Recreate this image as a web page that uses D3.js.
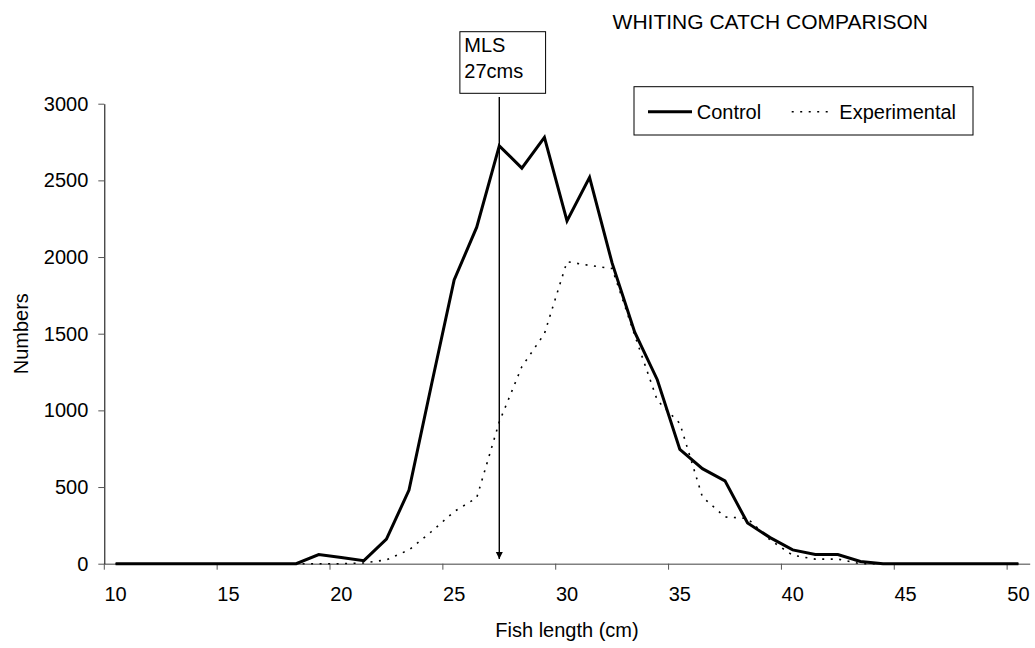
<!DOCTYPE html>
<meta charset="utf-8">
<title>Whiting catch comparison</title>
<style>
  html, body { margin: 0; padding: 0; background: #fff; }
  svg { display: block; font-family: 'Liberation Sans', Arial, sans-serif; }
  text { font-size: 20px; fill: #000; }
  .title { font-size: 21px; }
  .line { fill: none; stroke: #000; }
  .control { stroke-width: 3px; stroke-linejoin: miter; }
  .experimental { stroke-width: 1.6px; stroke-dasharray: 2 6.5; }
  .axis text { font-size: 20px; font-family: 'Liberation Sans', Arial, sans-serif; }
  .axis.x .domain { stroke: #808080; stroke-width: 1.5px; }
  .axis.x .tick line { stroke: #555; }
  .axis.y .domain { stroke: #000; }
  .axis.y .tick line { stroke: #555; }
  .frame { fill: #fff; stroke: #000; stroke-width: 1px; }
</style>
<svg id="chart" width="1035" height="648"></svg>
<script src="https://cdn.jsdelivr.net/npm/d3@7"></script>
<script>
  'use strict'
  // fish length classes (cm)
  const lengths = [10, 11, 12, 13, 14, 15, 16, 17, 18, 19, 20, 21, 22, 23, 24,
    25, 26, 27, 28, 29, 30, 31, 32, 33, 34, 35, 36, 37, 38, 39, 40, 41, 42, 43,
    44, 45, 46, 47, 48, 49, 50]
  const control = [0, 0, 0, 0, 0, 0, 0, 0, 0, 60, 40, 20, 160, 480, 1170,
    1850, 2195, 2725, 2580, 2780, 2235, 2520, 1960, 1510, 1200, 745, 620, 540,
    265, 170, 90, 60, 60, 15, 0, 0, 0, 0, 0, 0, 0]
  const experimental = [0, 0, 0, 0, 0, 0, 0, 0, 0, 0, 0, 5, 25, 90, 210,
    340, 430, 925, 1285, 1500, 1970, 1945, 1925, 1490, 1065, 915, 435, 305,
    295, 155, 55, 30, 30, 0, 0, 0, 0, 0, 0, 0, 0]
  const xTicks = [10, 15, 20, 25, 30, 35, 40, 45, 50]
  const yTicks = [0, 500, 1000, 1500, 2000, 2500, 3000]
  const seriesNames = ['Control', 'Experimental']
  const mlsLength = 27
  const mlsLabel = ['MLS', '27cms']
  const title = 'WHITING CATCH COMPARISON'

  const W = 1035, H = 648
  const margin = { top: 103.7, right: 5.3, bottom: 84.3, left: 104.3 }

  const svg = d3.select('#chart')

  const x = d3.scaleBand()
    .domain(lengths)
    .range([margin.left, W - margin.right])
    .paddingInner(0).paddingOuter(0)
  const bw = x.bandwidth()
  const cx = d => x(d) + bw / 2

  const y = d3.scaleLinear()
    .domain([0, 3000])
    .range([H - margin.bottom, margin.top])

  // axes
  const xAxis = svg.append('g')
    .attr('class', 'axis x')
    .attr('transform', `translate(0,${y(0)})`)
    .call(d3.axisBottom(x).tickValues(xTicks).tickSize(6).tickSizeOuter(0).tickPadding(17))
  // ticks sit between categories, labels on the category
  xAxis.selectAll('.tick line').attr('x1', -bw / 2).attr('x2', -bw / 2)
  xAxis.selectAll('.tick text').attr('fill', '#000')

  const yAxis = svg.append('g')
    .attr('class', 'axis y')
    .attr('transform', `translate(${margin.left},0)`)
    .call(d3.axisLeft(y).tickValues(yTicks).tickFormat(d3.format('d'))
      .tickSize(6).tickSizeOuter(0).tickPadding(10))
  yAxis.selectAll('.tick text').attr('fill', '#000')

  // axis titles
  svg.append('text')
    .attr('x', (margin.left + W - margin.right) / 2)
    .attr('y', 637)
    .attr('text-anchor', 'middle')
    .text('Fish length (cm)')
  svg.append('text')
    .attr('transform', `translate(28,${(y(0) + y(3000)) / 2}) rotate(-90)`)
    .attr('text-anchor', 'middle')
    .text('Numbers')

  // title
  svg.append('text')
    .attr('class', 'title')
    .attr('x', 928)
    .attr('y', 28.5)
    .attr('text-anchor', 'end')
    .text(title)

  // series
  const line = d3.line()
    .x((d, i) => cx(lengths[i]))
    .y(d => y(d))
  svg.append('path').datum(experimental)
    .attr('class', 'line experimental')
    .attr('d', line)
  svg.append('path').datum(control)
    .attr('class', 'line control')
    .attr('d', line)

  // MLS annotation
  const ax = cx(mlsLength)
  svg.append('defs').append('marker')
    .attr('id', 'arrow')
    .attr('viewBox', '0 0 10 10')
    .attr('refX', 10).attr('refY', 5)
    .attr('markerWidth', 7).attr('markerHeight', 8)
    .attr('markerUnits', 'userSpaceOnUse')
    .attr('orient', 'auto')
    .append('path').attr('d', 'M0,0L10,5L0,10Z').attr('fill', '#000')
  svg.append('line')
    .attr('x1', ax).attr('x2', ax)
    .attr('y1', 97).attr('y2', 559)
    .attr('stroke', '#000').attr('stroke-width', 1.4)
    .attr('marker-end', 'url(#arrow)')
  svg.append('rect')
    .attr('class', 'frame')
    .attr('x', ax - 39.4).attr('y', 31.7)
    .attr('width', 85.7).attr('height', 61.6)
  svg.append('g').selectAll('text')
    .data(mlsLabel)
    .enter().append('text')
    .attr('x', ax - 35)
    .attr('y', (d, i) => 52 + i * 26)
    .text(d => d)

  // legend
  const lg = svg.append('g').attr('transform', 'translate(634,86.7)')
  lg.append('rect').attr('class', 'frame')
    .attr('width', 339).attr('height', 48.3)
  const items = lg.selectAll('g.item')
    .data(seriesNames)
    .enter().append('g')
    .attr('class', 'item')
    .attr('transform', (d, i) => `translate(${i ? 157.7 : 14},25)`)
  items.append('line')
    .attr('class', (d, i) => `line ${i ? 'experimental' : 'control'}`)
    .attr('x1', 0).attr('x2', (d, i) => i ? 41 : 44)
  items.append('text')
    .attr('x', (d, i) => i ? 47.6 : 48.7)
    .attr('y', 7.6)
    .text(d => d)
</script>
